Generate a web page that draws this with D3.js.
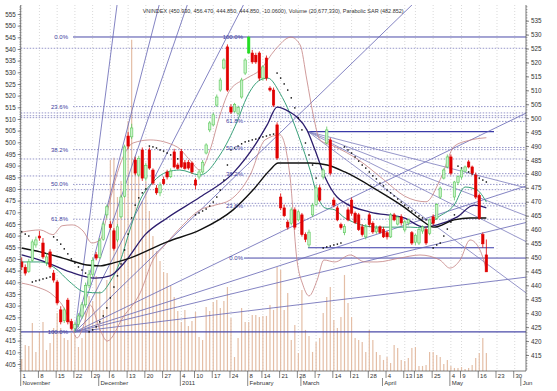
<!DOCTYPE html>
<html><head><meta charset="utf-8">
<script src="https://cdn.jsdelivr.net/npm/d3@7"></script>
<style>body{margin:0;background:#fff}svg{display:block}text{font-family:Arial,"Liberation Sans",sans-serif}</style>
</head><body><svg id="c" width="557" height="391"></svg>
<script>
// ---------- DATA ----------
const dates = [
"2010-11-01","2010-11-02","2010-11-03","2010-11-04","2010-11-05","2010-11-08","2010-11-09","2010-11-10","2010-11-11","2010-11-12",
"2010-11-15","2010-11-16","2010-11-17","2010-11-18","2010-11-19","2010-11-22","2010-11-23","2010-11-24","2010-11-25","2010-11-26",
"2010-11-29","2010-11-30","2010-12-01","2010-12-02","2010-12-03","2010-12-06","2010-12-07","2010-12-08","2010-12-09","2010-12-10",
"2010-12-13","2010-12-14","2010-12-15","2010-12-16","2010-12-17","2010-12-20","2010-12-21","2010-12-22","2010-12-23","2010-12-24",
"2010-12-27","2010-12-28","2010-12-29","2010-12-30","2010-12-31","2011-01-04","2011-01-05","2011-01-06","2011-01-07","2011-01-10",
"2011-01-11","2011-01-12","2011-01-13","2011-01-14","2011-01-17","2011-01-18","2011-01-19","2011-01-20","2011-01-21","2011-01-24",
"2011-01-25","2011-01-26","2011-01-27","2011-01-28","2011-02-08","2011-02-09","2011-02-10","2011-02-11","2011-02-14","2011-02-15",
"2011-02-16","2011-02-17","2011-02-18","2011-02-21","2011-02-22","2011-02-23","2011-02-24","2011-02-25","2011-02-28","2011-03-01",
"2011-03-02","2011-03-03","2011-03-04","2011-03-07","2011-03-08","2011-03-09","2011-03-10","2011-03-11","2011-03-14","2011-03-15",
"2011-03-16","2011-03-17","2011-03-18","2011-03-21","2011-03-22","2011-03-23","2011-03-24","2011-03-25","2011-03-28","2011-03-29",
"2011-03-30","2011-03-31","2011-04-01","2011-04-04","2011-04-05","2011-04-06","2011-04-07","2011-04-08","2011-04-13","2011-04-14",
"2011-04-15","2011-04-18","2011-04-19","2011-04-20","2011-04-21","2011-04-22","2011-04-25","2011-04-26","2011-04-27","2011-04-28",
"2011-04-29","2011-05-04","2011-05-05","2011-05-06","2011-05-09","2011-05-10","2011-05-11","2011-05-12","2011-05-13","2011-05-16",
"2011-05-17","2011-05-18","2011-05-19","2011-05-20","2011-05-23","2011-05-24","2011-05-25","2011-05-26","2011-05-27","2011-05-30",
"2011-05-31","2011-06-01","2011-06-02"];

const open = [448.4,446.5,445.0,449.0,454.5,457.7,455.2,448.2,452.0,444.4,
441.2,431.2,427.3,434.7,427.0,424.5,426.0,429.0,433.0,440.0,
444.0,451.0,450.0,456.5,465.3,461.8,459.6,456.3,464.6,472.0,
493.6,493.3,485.0,479.6,488.6,478.5,488.6,481.4,474.9,473.2,
478.0,480.7,479.0,487.9,483.2,488.0,484.0,484.2,483.9,477.8,
478.9,480.7,487.5,495.8,497.6,504.7,510.1,518.0,525.6,504.0,
502.5,501.8,507.6,516.2,523.4,523.4,522.6,523.4,514.4,521.6,
510.8,510.1,497.6,471.7,467.8,462.7,462.3,467.1,463.5,465.3,
458.2,454.5,465.3,469.0,475.0,478.9,491.1,492.2,470.6,467.8,
461.8,458.9,467.1,470.6,465.9,465.3,461.0,457.4,465.3,462.3,
459.2,461.0,460.0,458.9,457.4,465.3,462.0,464.6,459.9,462.4,
458.9,455.5,455.2,459.5,460.0,458.7,464.6,464.0,471.7,478.5,
482.5,486.1,471.7,477.0,478.9,481.0,484.3,482.5,479.6,472.3,
458.2,450.93];
const high = [450.0,447.5,449.5,456.5,457.5,459.5,457.0,451.5,453.0,445.5,
442.0,432.5,432.0,435.5,428.0,427.0,430.0,434.0,441.0,445.5,
450.0,452.0,457.0,463.0,469.0,463.0,460.5,462.0,472.5,490.5,
495.0,498.0,486.0,486.5,489.5,484.0,489.5,482.0,476.0,477.0,
479.0,481.5,482.0,489.0,484.0,489.0,485.0,485.0,484.5,478.5,
481.5,485.0,491.0,499.0,502.0,508.5,514.5,521.5,526.5,505.0,
505.5,504.5,514.5,521.5,529.5,524.5,523.5,524.0,519.0,522.5,
511.5,511.0,498.5,473.0,469.0,463.5,468.0,468.0,467.0,466.0,
459.0,460.0,469.5,476.0,476.0,482.0,497.0,493.0,471.5,468.5,
462.5,462.0,468.0,471.5,466.5,466.0,462.0,462.0,466.0,463.0,
461.5,461.5,461.0,459.5,466.0,466.0,465.0,465.5,463.5,464.0,
459.5,458.5,460.5,461.5,461.0,464.0,465.5,469.5,475.5,482.0,
487.0,487.0,477.5,479.5,482.0,483.0,485.0,483.0,480.5,473.0,
459.0,456.47];
const low = [445.5,443.5,444.5,448.5,453.5,456.0,449.5,447.0,446.0,441.0,
433.0,426.0,426.5,426.0,423.8,423.3,425.0,428.0,432.0,439.0,
443.0,449.0,449.5,456.0,464.0,460.0,452.5,455.5,464.0,471.5,
489.0,492.5,479.5,479.0,477.5,477.5,481.5,476.0,472.5,472.0,
476.0,478.0,478.5,482.0,481.5,482.0,481.5,481.5,480.0,474.5,
478.0,480.0,487.0,495.0,497.0,504.0,509.5,517.5,509.5,501.5,
502.0,501.0,507.0,515.5,523.0,519.5,519.5,513.5,513.5,513.5,
509.5,504.0,485.0,467.0,464.5,460.0,461.5,460.0,463.0,457.5,
455.5,453.5,464.5,468.5,470.0,478.0,490.5,479.5,468.0,463.0,
460.0,458.0,463.0,465.0,462.0,459.5,457.5,456.5,461.0,458.5,
458.5,458.5,457.0,456.5,457.0,463.0,461.5,461.5,459.0,461.5,
454.5,454.5,454.5,458.5,454.5,458.0,461.5,463.5,471.0,478.0,
482.0,479.5,470.5,476.0,478.0,480.5,482.0,479.5,471.0,463.5,
453.5,444.85];
const close = [446.6,444.4,448.4,455.6,456.3,457.0,450.2,450.2,446.6,441.9,
433.7,426.9,431.2,426.9,424.5,426.0,429.0,433.0,440.0,444.0,
449.0,449.8,456.0,462.0,468.2,460.7,453.2,461.0,471.7,489.7,
490.0,496.5,480.3,485.6,478.5,483.0,482.1,476.7,473.2,476.0,
476.5,478.9,481.0,482.5,482.0,482.5,482.0,482.1,480.7,476.0,
480.7,484.2,490.4,498.3,501.2,507.6,513.7,520.9,510.1,502.2,
505.0,503.9,513.7,520.9,529.1,520.2,520.2,514.4,518.4,514.4,
510.1,504.7,485.7,467.8,465.0,460.9,467.1,460.9,466.4,458.2,
456.5,459.1,468.8,475.0,470.6,481.4,495.8,480.3,468.8,463.5,
460.7,461.1,463.5,465.9,462.5,460.0,458.2,461.0,461.8,459.2,
460.5,459.0,457.4,457.4,465.3,463.5,464.5,462.4,462.8,463.5,
455.2,458.0,460.0,461.0,455.2,463.5,462.3,469.0,474.9,481.4,
486.1,480.3,477.1,479.0,481.4,482.5,482.5,480.3,471.7,464.1,
454.91,444.85];
// volume, millions of shares
const volume = [13.8,29.9,28.8,55.2,21.9,44.9,56.4,24.2,32.2,49.5,
66.7,49.5,38.0,35.7,43.7,41.4,27.6,38.0,69.0,86.3,
80.5,109.3,92.0,70.2,104.7,242.7,245.0,200.1,218.5,201.3,
287.5,380.7,247.3,231.2,195.5,218.5,184.0,155.3,138.0,126.5,
113.9,112.7,97.8,85.1,69.0,56.4,70.2,51.8,57.5,67.9,
39.1,35.7,73.6,69.0,79.4,81.7,72.5,80.5,96.6,61.0,
16.1,38.0,72.5,56.4,56.4,64.4,64.4,62.1,63.3,63.3,
75.9,70.2,119.6,116.2,70.2,89.7,35.7,52.9,20.7,93.2,
47.2,40.3,21.9,33.4,38.0,66.7,85.1,96.6,58.7,49.5,
62.1,110.4,78.2,62.1,38.0,35.7,33.4,21.9,47.2,35.7,
21.9,18.4,12.7,16.1,9.2,29.9,26.5,12.7,11.5,15.0,
26.5,27.6,5.8,5.8,6.9,21.9,21.9,18.4,16.1,8.1,
12.7,5.8,3.5,3.5,4.6,2.3,3.5,6.9,15.0,20.7,
38.0,20.68];
const sar = [459.2,458.4,457.7,441.2,441.6,441.9,442.3,442.6,443.0,457.4,
456.3,454.8,453.1,451.3,449.5,448.0,446.6,445.5,444.4,423.3,
424.0,425.1,426.9,429.0,431.9,435.5,439.4,443.4,447.7,452.7,
458.4,464.2,468.8,471.4,473.2,474.6,490.0,489.7,489.3,488.6,
488.2,487.5,486.8,486.1,485.4,484.6,483.6,482.8,482.1,465.3,
466.0,466.7,467.4,468.5,469.9,471.7,474.2,477.8,483.2,488.6,
489.3,490.0,490.8,491.5,491.8,492.2,492.5,492.9,493.3,493.6,
494.0,494.3,516.2,514.4,512.3,510.1,507.3,503.7,500.1,495.8,
491.1,486.8,483.2,478.5,474.6,453.4,453.8,454.1,454.5,454.8,
455.2,489.7,488.6,487.5,486.1,484.6,483.2,482.1,480.7,479.3,
478.2,476.7,475.7,474.2,473.2,472.1,471.0,469.9,468.8,467.8,
466.7,466.0,464.9,464.2,463.5,462.7,453.4,454.5,455.2,457.7,
460.2,462.7,465.3,482.8,482.1,481.4,480.7,480.0,479.3,478.5,
477.8,477.1];
// indicator lines: [day index, value]
const maBlack = [[0,453.4],[5.2,452.0],[11.6,449.8],[18.4,447.3],[22.1,447.0],[25.7,448.0],[30.5,449.8],[41,455.6],[50.3,459.9],[59.6,467.1],[65.2,474.2],[70,481.4],[72.3,483.9],[81.3,483.9],[86.1,483.2],[91.1,480.7],[100.2,474.2],[107.8,468.1],[112.3,463.8],[116.2,460.9],[121.9,463.5],[126.4,464.2],[131,464.2]];
const maNavy = [[0,450.9],[6.6,448.4],[13.6,444.8],[20.7,442.6],[24.9,443.4],[29.1,448.4],[34.8,458.2],[41,464.2],[50.3,471.7],[59.6,480.3],[65.8,490.4],[69.2,497.6],[72,504.0],[75.6,502.2],[77.6,500.4],[80.4,495.8],[82.7,488.6],[85.5,478.9],[88.9,471.7],[91.1,469.6],[98.2,466.3],[107.8,464.2],[113.4,460.9],[117.1,461.7],[122.7,464.5],[127.5,468.8],[131,467.8]];
const maTeal = [[0,448.4],[5.2,448.4],[9.4,446.2],[13.6,441.2],[17.8,437.6],[22.1,437.3],[24.9,441.2],[27.7,448.4],[30.5,459.9],[33.4,470.6],[37,477.1],[41,480.7],[44.6,481.4],[50.3,479.6],[55.9,486.8],[60.7,498.7],[63.5,507.6],[67.2,513.7],[69.4,514.4],[72.8,509.0],[75.6,501.8],[78.5,492.1],[81.3,481.4],[83.5,471.7],[85.5,467.8],[88.3,467.1],[91.1,464.2],[100.2,460.9],[109.5,460.9],[113.7,460.6],[117.1,464.2],[121.9,468.8],[125,475.3],[128.4,474.2],[131,469.9]];
const bandUpper = [[0,459.1],[5.2,459.9],[8.8,458.2],[11.4,461.4],[14.2,461.7],[17.3,459.5],[19.8,455.2],[22.1,456.3],[24.9,470.6],[27.7,483.2],[31.4,491.1],[36.2,492.2],[43.8,489.7],[47.4,485.0],[50.3,481.4],[53.1,488.6],[55.9,501.1],[58.7,510.1],[63.5,514.4],[67.2,517.3],[71.4,524.5],[75.9,529.1],[78.5,526.3],[80.4,513.7],[82.1,501.8],[84.1,492.2],[88,490],[95,485],[102,478],[108,472],[114,470],[118,478],[122,490],[126,492],[131,493]];
const bandLower = [[0,440.8],[4.3,439.4],[8.8,436.5],[12.2,431.2],[14.2,424.7],[15.6,421.1],[17.3,425.0],[19.3,432.9],[22.1,424.0],[24.1,420.0],[28.6,428.6],[33.4,437.3],[37,449.1],[40.4,454.5],[45.5,461.7],[50.3,467.1],[54.5,468.8],[58.7,470.6],[64.4,479.6],[68.6,492.2],[72.8,494.0],[75.6,479.6],[77.6,449.1],[79.3,440.1],[81,436.2],[83.3,441.9],[85.2,449.1],[88.3,448.4],[92.6,450.9],[96.8,448.4],[100.2,448.4],[106.6,449.8],[112.3,450.9],[117.9,449.1],[120.7,446.2],[123.6,449.1],[126.4,456.3],[129.2,452.7],[131,445.5]];
// drawing tools
const fibRatios = [0, 0.236, 0.382, 0.5, 0.618, 1];
const fibA = {hi: 529.15, lo: 423.3};
const fibB = {hi: 529.15, lo: 449.8};
const fibC = {hi: 495.2, lo: 453.5};
const extraLevels = [525.1, 501.9, 500.9, 500.2];
const gannOrigin = [15, 423.3];
const gannRatios = [8, 4, 3, 2, 1, 1/2, 1/3, 1/4, 1/8];
const gannUnit = 1.235;
const fanOrigin = [80.7, 495.2];
const fanEnds = [[142.2, 475.0], [142.2, 465.0], [142.2, 455.7], [142.2, 437.3]];
const leftTicks = d3.range(405, 556, 5);
const rightTicks = d3.range(415, 536, 5);
const titleText = "VNINDEX (450.930, 456.470, 444.850, 444.850, -10.0600), Volume (20,677,330), Parabolic SAR (482.852)";

// ---------- SCALES ----------
const svg = d3.select("#c");
const X0 = 20.7, X1 = 526, Y0 = 5, Y1 = 371;
const x = d3.scalePoint().domain(dates).range([21.7, 21.7 + (dates.length - 1) * 3.547]);
const xi = i => x(dates[0]) + i * x.step();
const y = d3.scaleLinear().domain([415, 535]).range([355, 20.7]);
const yLeft = d3.scaleLinear().domain([405, 555]).range([364, 14]);
const yVol = d3.scaleLinear().domain([0, 100]).range([Y1, Y1 - 87]);

svg.append("defs").append("clipPath").attr("id", "pc")
  .append("rect").attr("x", X0).attr("y", Y0).attr("width", X1 - X0).attr("height", Y1 - Y0);
const plot = svg.append("g").attr("clip-path", "url(#pc)");

const parse = d3.timeParse("%Y-%m-%d");
const D = dates.map(parse);
const weekStarts = [], monthStarts = [];
D.forEach((d, i) => {
  if (i === 0 || +d3.timeMonday.floor(d) !== +d3.timeMonday.floor(D[i - 1])) weekStarts.push(i);
  if (i === 0 || d.getMonth() !== D[i - 1].getMonth()) monthStarts.push(i);
});
plot.selectAll(".vg").data(weekStarts).join("line")
  .attr("x1", i => x(dates[i])).attr("x2", i => x(dates[i])).attr("y1", Y0).attr("y2", Y1)
  .attr("stroke", "#c8c8c8").attr("stroke-width", 0.7).attr("stroke-dasharray", "1,2");

plot.selectAll(".vol").data(volume).join("line")
  .attr("x1", (v, i) => x(dates[i])).attr("x2", (v, i) => x(dates[i]))
  .attr("y1", yVol(0)).attr("y2", v => yVol(v))
  .attr("stroke", "#e4bea6").attr("stroke-width", 1.2);

const hl = (v, xa, xb, col, dash, w) => plot.append("line").attr("x1", xa).attr("x2", xb)
  .attr("y1", y(v)).attr("y2", y(v)).attr("stroke", col).attr("stroke-width", w || 0.8)
  .attr("stroke-dasharray", dash || null);
const dotCol = "#7c7cbc";
extraLevels.forEach(v => hl(v, X0, X1, dotCol, "1.5,1.5"));
fibRatios.forEach(r => {
  const v = fibA.hi - r * (fibA.hi - fibA.lo);
  if (r === 0) hl(v, 73, X1, "#4a4aa8", null, 1);
  else if (r === 1) hl(v, X0, X1, "#4a4aa8", null, 1.2);
  else hl(v, 73, X1, dotCol, "1.5,1.5");
});
fibRatios.forEach(r => {
  const v = fibB.lo + r * (fibB.hi - fibB.lo);
  if (r === 0) hl(v, 244, X1, "#4a4aa8", null, 1);
  else if (r < 1) hl(v, 244, X1, dotCol, "1.5,1.5");
});
fibRatios.forEach(r => {
  const v = fibC.hi - r * (fibC.hi - fibC.lo);
  if (r === 0 || r === 1) hl(v, xi(fanOrigin[0]), 494, "#3a3aa8", null, 1.2);
  else hl(v, X0, X1, dotCol, "1.5,1.5");
});

gannRatios.forEach(r => {
  const i1 = 142.5, v1 = gannOrigin[1] + r * gannUnit * (i1 - gannOrigin[0]);
  plot.append("line").attr("x1", xi(gannOrigin[0])).attr("y1", y(gannOrigin[1]))
    .attr("x2", xi(i1)).attr("y2", y(v1)).attr("stroke", "#6464b4").attr("stroke-width", 0.8);
});
fanEnds.forEach(e => plot.append("line").attr("x1", xi(fanOrigin[0])).attr("y1", y(fanOrigin[1]))
  .attr("x2", xi(e[0])).attr("y2", y(e[1])).attr("stroke", "#7c7cbc").attr("stroke-width", 0.8));

const lineGen = d3.line().x(d => xi(d[0])).y(d => y(d[1])).curve(d3.curveMonotoneX);
const drawLine = (data, col, w) => plot.append("path").attr("d", lineGen(data))
  .attr("fill", "none").attr("stroke", col).attr("stroke-width", w);
drawLine(bandUpper, "#c48282", 0.8);
drawLine(bandLower, "#c48282", 0.8);
drawLine(maTeal, "#3aa07a", 1);
drawLine(maNavy, "#2d1e6e", 1.3);
drawLine(maBlack, "#111", 1.4);

plot.selectAll(".sar").data(sar).join("rect")
  .attr("x", (v, i) => x(dates[i]) - 0.7).attr("y", v => y(v) - 0.7)
  .attr("width", 1.4).attr("height", 1.4).attr("fill", "#000");

const cw = 2.4;
const cg = plot.selectAll(".cd").data(close).join("g");
cg.append("line")
  .attr("x1", (c, i) => x(dates[i])).attr("x2", (c, i) => x(dates[i]))
  .attr("y1", (c, i) => y(high[i])).attr("y2", (c, i) => y(low[i]))
  .attr("stroke", (c, i) => c >= open[i] ? "#5cc85c" : "#e00000").attr("stroke-width", 0.8);
cg.append("rect")
  .attr("x", (c, i) => x(dates[i]) - cw / 2)
  .attr("y", (c, i) => y(Math.max(c, open[i])))
  .attr("width", cw)
  .attr("height", (c, i) => Math.max(0.8, Math.abs(y(c) - y(open[i]))))
  .attr("fill", (c, i) => i === 64 ? "#22dd22" : (c >= open[i] ? "#c8f3c8" : "#e00000"))
  .attr("stroke", (c, i) => i === 64 ? "#22dd22" : (c >= open[i] ? "#5cc85c" : "#e00000"))
  .attr("stroke-width", 0.6);

const lab = (t, xx, v) => svg.append("text").attr("x", xx).attr("y", y(v) + 2)
  .attr("text-anchor", "end").attr("font-size", 6).attr("fill", "#3c3ca0").text(t);
fibRatios.forEach(r => lab((r * 100).toFixed(1) + "%", 68, fibA.hi - r * (fibA.hi - fibA.lo)));
fibRatios.forEach(r => lab((r * 100).toFixed(1) + "%", 243, fibB.lo + r * (fibB.hi - fibB.lo)));

// ---------- AXES ----------
const axCol = "#555";
svg.append("line").attr("x1", X0).attr("x2", X0).attr("y1", Y0).attr("y2", Y1).attr("stroke", axCol).attr("stroke-width", 0.8);
svg.append("line").attr("x1", X1).attr("x2", X1).attr("y1", Y0).attr("y2", Y1).attr("stroke", axCol).attr("stroke-width", 0.8);
svg.append("line").attr("x1", X0).attr("x2", X1).attr("y1", Y1).attr("y2", Y1).attr("stroke", axCol).attr("stroke-width", 0.8);
const la = svg.append("g").attr("transform", `translate(${X0},0)`)
  .call(d3.axisLeft(yLeft).tickValues(leftTicks).tickSize(3).tickPadding(2).tickFormat(d3.format("d")));
const ra = svg.append("g").attr("transform", `translate(${X1},0)`)
  .call(d3.axisRight(y).tickValues(rightTicks).tickSize(3).tickPadding(2).tickFormat(d3.format("d")));
[la, ra].forEach(a => {
  a.select(".domain").remove();
  a.selectAll("line").attr("stroke", axCol).attr("stroke-width", 0.7);
  a.selectAll("text").attr("font-size", 6.3).attr("fill", "#333");
});
svg.append("g").selectAll("line").data(d3.range(402, 559, 1)).join("line")
  .attr("x1", X0 - 1.5).attr("x2", X0).attr("y1", v => yLeft(v)).attr("y2", v => yLeft(v))
  .attr("stroke", axCol).attr("stroke-width", 0.5);
svg.append("g").selectAll("line").data(d3.range(410, 541, 1)).join("line")
  .attr("x1", X1).attr("x2", X1 + 1.5).attr("y1", v => y(v)).attr("y2", v => y(v))
  .attr("stroke", axCol).attr("stroke-width", 0.5);

const xa = svg.append("g");
xa.selectAll(".wk").data(weekStarts).join("line")
  .attr("x1", i => x(dates[i]) - 1).attr("x2", i => x(dates[i]) - 1).attr("y1", Y1).attr("y2", Y1 + 7)
  .attr("stroke", axCol).attr("stroke-width", 0.7);
xa.selectAll(".wt").data(weekStarts).join("text")
  .attr("x", i => x(dates[i]) + 0.8).attr("y", Y1 + 6.5).attr("font-size", 6).attr("fill", "#333")
  .text(i => D[i].getDate());
const monthName = d => d.getMonth() === 0 ? String(d.getFullYear()) : d3.timeFormat(d.getMonth() === 5 ? "%b" : "%B")(d);
xa.selectAll(".mk").data(monthStarts).join("line")
  .attr("x1", i => x(dates[i]) - 1).attr("x2", i => x(dates[i]) - 1).attr("y1", Y1 + 7).attr("y2", Y1 + 15)
  .attr("stroke", axCol).attr("stroke-width", 0.7);
xa.selectAll(".mt").data(monthStarts).join("text")
  .attr("x", i => x(dates[i]) + 0.8).attr("y", Y1 + 13.5).attr("font-size", 6).attr("fill", "#333")
  .text(i => monthName(D[i]));

svg.append("text").attr("x", 142.7).attr("y", 12.5).attr("font-size", 6).attr("fill", "#333")
  .attr("textLength", 261).attr("lengthAdjust", "spacingAndGlyphs").text(titleText);
</script></body></html>
